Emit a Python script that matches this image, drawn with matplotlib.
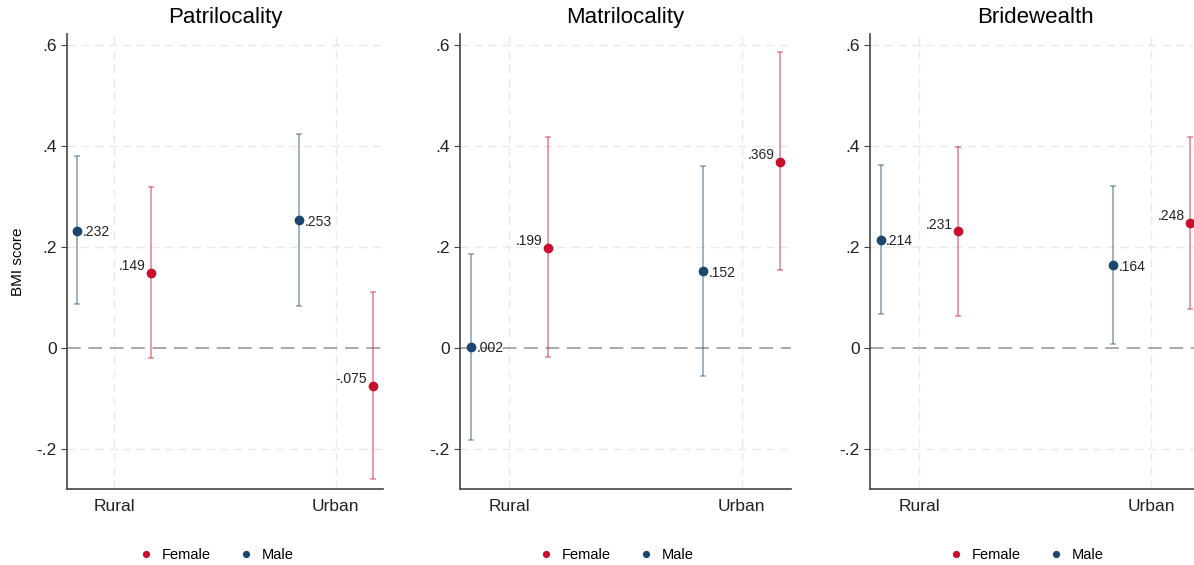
import matplotlib.pyplot as plt

plt.rcParams["font.family"] = ["Liberation Sans", "DejaVu Sans"]

# panels and categories
panels = ["Patrilocality", "Matrilocality", "Bridewealth"]
areas = ["Rural", "Urban"]

# point estimates [Rural, Urban] per panel
male_est = [[0.232, 0.253], [0.002, 0.152], [0.214, 0.164]]
female_est = [[0.149, -0.075], [0.199, 0.369], [0.231, 0.248]]

# confidence intervals (low, high)
male_lo = [[0.087, 0.083], [-0.183, -0.056], [0.067, 0.007]]
male_hi = [[0.380, 0.424], [0.187, 0.361], [0.362, 0.322]]
female_lo = [[-0.020, -0.260], [-0.019, 0.154], [0.064, 0.078]]
female_hi = [[0.319, 0.111], [0.418, 0.587], [0.399, 0.419]]

yticks = [-0.2, 0, 0.2, 0.4, 0.6]
ytick_labels = ["-.2", "0", ".2", ".4", ".6"]

male_col = "#1a476f"
female_col = "#c8102e"


def stata_fmt(v):
    s = f"{v:.3f}"
    return s.replace("0.", ".", 1)


fig = plt.figure(figsize=(11.94, 5.65), dpi=100)
lefts = [0.0561, 0.3853, 0.7286]
widths = [0.2647, 0.2772, 0.2772]
off = 0.167

for i, name in enumerate(panels):
    ax = fig.add_axes([lefts[i], 0.1345, widths[i], 0.8055])
    xs = [1, 2]
    for x in xs:
        ax.axvline(x, color="#e8e8e8", lw=1, ls=(0, (6, 4)), zorder=0)
    for y in yticks:
        if y != 0:
            ax.axhline(y, color="#e8e8e8", lw=1, ls=(0, (6, 4)), zorder=0)
    ax.axhline(0, color="#a8a8a8", lw=1.4, ls=(0, (7, 4)), zorder=1)

    for j, x in enumerate(xs):
        # male: left of the category
        xm = x - off
        m = male_est[i][j]
        ax.errorbar(xm, m, yerr=[[m - male_lo[i][j]], [male_hi[i][j] - m]],
                    fmt="none", ecolor=male_col, alpha=0.45, elinewidth=1.3,
                    capsize=2.5, capthick=1.2, zorder=2)
        ax.plot(xm, m, "o", color=male_col, ms=6, zorder=3,
                label="Male" if j == 0 else None)
        ax.annotate(stata_fmt(m), (xm, m), xytext=(4, -1), textcoords="offset points",
                    ha="left", va="center", fontsize=10, color="#222222")
        # female: right of the category
        xf = x + off
        f = female_est[i][j]
        ax.errorbar(xf, f, yerr=[[f - female_lo[i][j]], [female_hi[i][j] - f]],
                    fmt="none", ecolor=female_col, alpha=0.45, elinewidth=1.3,
                    capsize=2.5, capthick=1.2, zorder=2)
        ax.plot(xf, f, "o", color=female_col, ms=6, zorder=3,
                label="Female" if j == 0 else None)
        ax.annotate(stata_fmt(f), (xf, f), xytext=(-4, 5), textcoords="offset points",
                    ha="right", va="center", fontsize=10, color="#222222")

    ax.set_xlim(0.787, 2.213)
    ax.set_ylim(-0.28, 0.623)
    ax.set_xticks(xs)
    ax.set_xticklabels(areas, fontsize=12.5, color="#222222")
    ax.tick_params(axis="x", length=0, pad=7)
    ax.set_yticks(yticks)
    ax.set_yticklabels(ytick_labels, fontsize=12.5, color="#222222")
    ax.tick_params(axis="y", length=4, color="#444444")
    for s in ["top", "right"]:
        ax.spines[s].set_visible(False)
    for s in ["left", "bottom"]:
        ax.spines[s].set_color("#444444")
        ax.spines[s].set_linewidth(1.2)
    ax.set_title(name, fontsize=16, pad=8)
    if i == 0:
        ax.set_ylabel("BMI score", fontsize=11, labelpad=8)

    h, l = ax.get_legend_handles_labels()
    order = [l.index("Female"), l.index("Male")]
    ax.legend([h[k] for k in order], [l[k] for k in order], loc="upper center",
              bbox_to_anchor=(0.46, -0.1), ncol=2, frameon=False, fontsize=10.5,
              handletextpad=0.1, columnspacing=1.4, markerscale=0.7)

fig.savefig("out.png", dpi=100)
